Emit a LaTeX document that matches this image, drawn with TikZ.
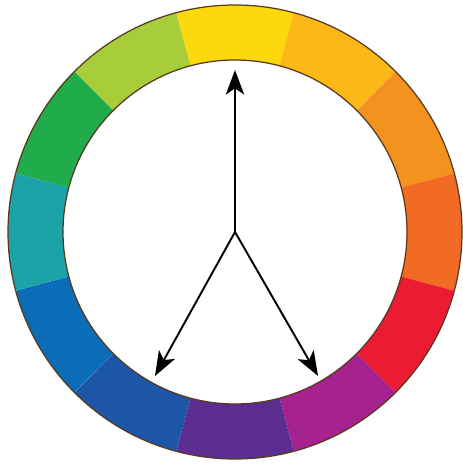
\documentclass[tikz,border=0pt]{standalone}
\usetikzlibrary{arrows.meta,calc}

\definecolor{wYellow}{HTML}{FDD80C}
\definecolor{wYellowOrange}{HTML}{FBB817}
\definecolor{wOrange}{HTML}{F4921F}
\definecolor{wRedOrange}{HTML}{F26B25}
\definecolor{wRed}{HTML}{EC1B34}
\definecolor{wRedViolet}{HTML}{A5228F}
\definecolor{wViolet}{HTML}{5C2D91}
\definecolor{wBlueViolet}{HTML}{1D56A6}
\definecolor{wBlue}{HTML}{0B6DB8}
\definecolor{wBlueGreen}{HTML}{1BA3A7}
\definecolor{wGreen}{HTML}{20AC4B}
\definecolor{wYellowGreen}{HTML}{A7CE3A}

\begin{document}
\begin{tikzpicture}[
    rim/.style={draw=black!55!brown, line width=0.35pt},
    arrow/.style={-{Stealth[length=7pt, width=5.2pt, inset=1.8pt]}, line width=0.55pt}
]
\useasboundingbox (0,0) rectangle (4.63,4.65);

% ============================================================
% KOLO BARW
% ============================================================
\coordinate (hub) at (2.35,2.33);
\foreach \ang/\col in {90/wYellow, 60/wYellowOrange, 30/wOrange,
    0/wRedOrange, -30/wRed, -60/wRedViolet, -90/wViolet,
    -120/wBlueViolet, -150/wBlue, 180/wBlueGreen, 150/wGreen,
    120/wYellowGreen}{
  \fill[\col] ($(hub)+(\ang-15:2.27)$) arc[start angle=\ang-15, end angle=\ang+15, radius=2.27]
    -- ($(hub)+(\ang+15:1.72)$) arc[start angle=\ang+15, end angle=\ang-15, radius=1.72] -- cycle;
}
\draw[rim] (hub) circle[radius=2.27];
\draw[rim] (hub) circle[radius=1.72];

% ============================================================
% STRZALKI
% ============================================================
\coordinate (top) at (2.35,3.95);
\coordinate (left) at (1.55,0.89);
\coordinate (right) at (3.18,0.89);

\draw[arrow] (hub) -- (top);
\draw[arrow] (hub) -- (left);
\draw[arrow] (hub) -- (right);

\end{tikzpicture}
\end{document}
